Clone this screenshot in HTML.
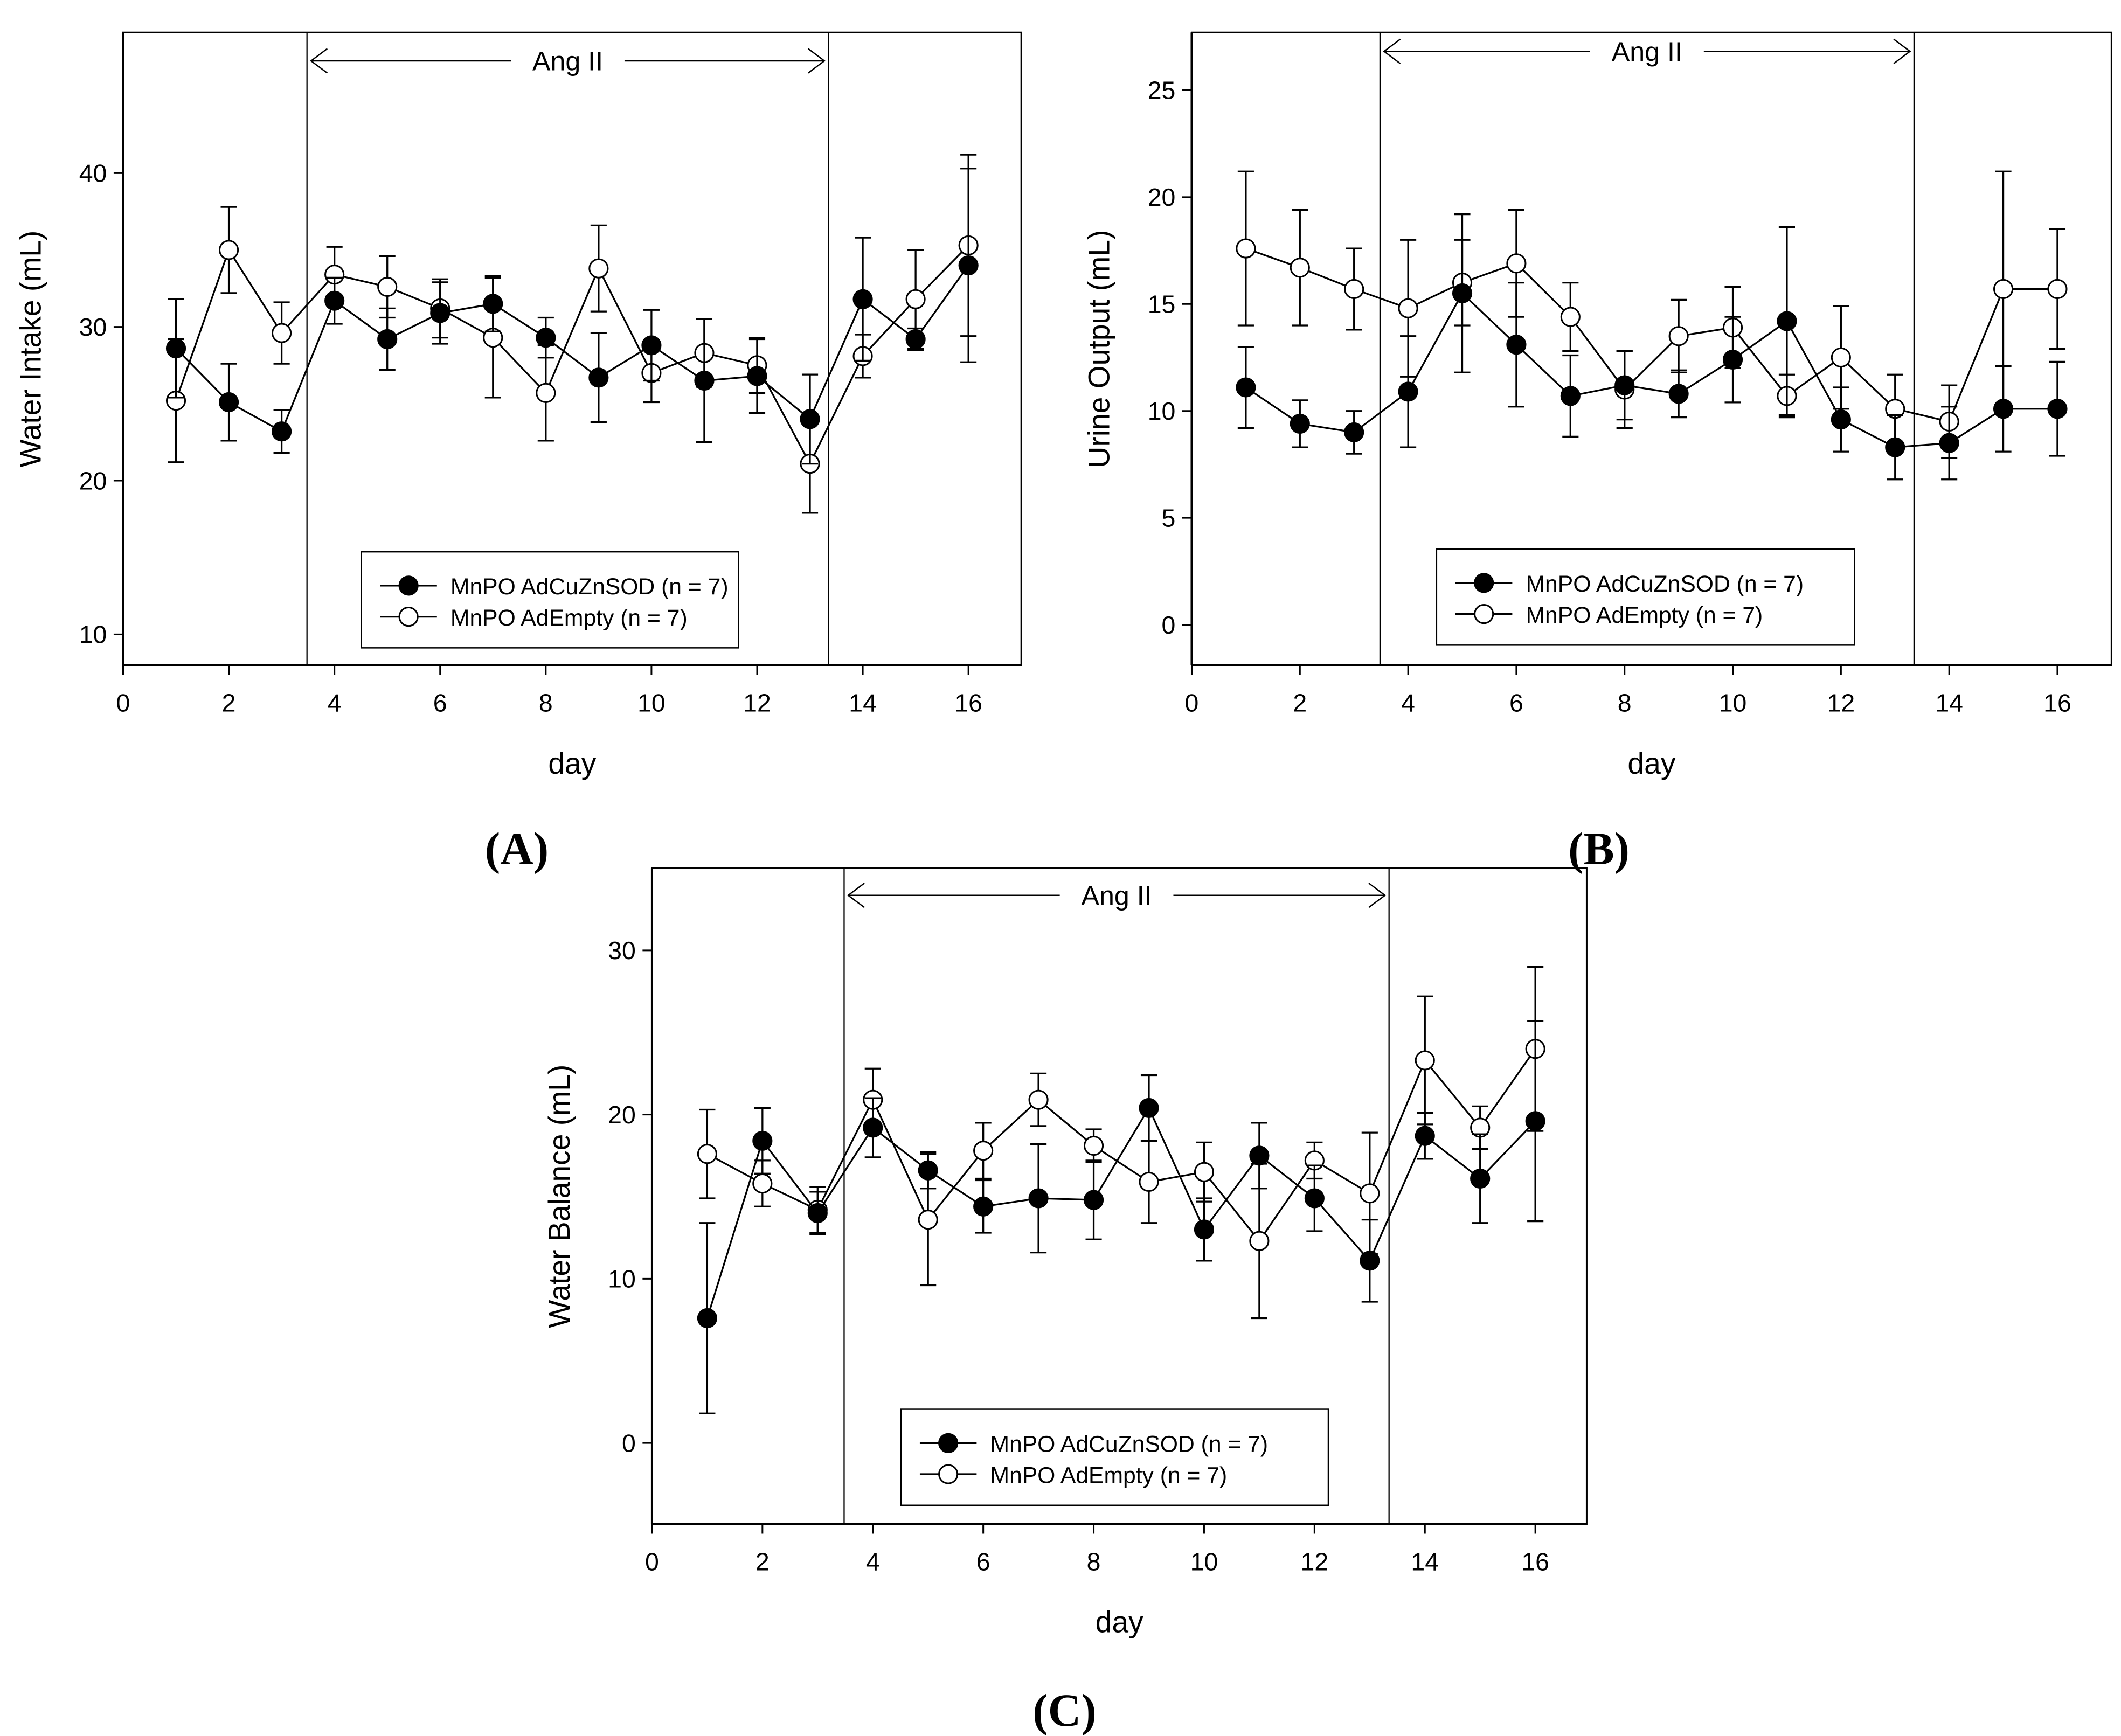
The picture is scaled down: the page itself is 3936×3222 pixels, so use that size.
<!DOCTYPE html>
<html><head><meta charset="utf-8"><style>html,body{margin:0;padding:0;background:#fff}svg{display:block}text{font-family:"Liberation Sans",Arial,sans-serif;fill:#000}</style></head>
<body>
<svg id="fig" xmlns="http://www.w3.org/2000/svg" width="3936" height="3222" viewBox="0 0 1568 1283.6">
<rect width="1568" height="1283.6" fill="#fff"/>
</svg>
<script>
const days = [1,2,3,4,5,6,7,8,9,10,11,12,13,14,15,16];
const xTicks = [0,2,4,6,8,10,12,14,16];
const aTicks = [10,20,30,40];
const bTicks = [0,5,10,15,20,25];
const cTicks = [0,10,20,30];
const aBlack = [28.6,25.1,23.2,31.7,29.2,30.9,31.5,29.3,26.7,28.8,26.5,26.8,24.0,31.8,29.2,34.0];
const aBlackErr = [3.2,2.5,1.4,1.5,2.0,2.0,1.8,1.3,2.9,2.3,4.0,2.4,2.9,4.0,0.7,6.3];
const aWhite = [25.2,35.0,29.6,33.4,32.6,31.2,29.3,25.7,33.8,27.0,28.3,27.5,21.1,28.1,31.8,35.3];
const aWhiteErr = [4.0,2.8,2.0,1.8,2.0,1.9,3.9,3.1,2.8,1.9,2.2,1.8,3.2,1.4,3.2,5.9];
const bBlack = [11.1,9.4,9.0,10.9,15.5,13.1,10.7,11.2,10.8,12.4,14.2,9.6,8.3,8.5,10.1,10.1];
const bBlackErr = [1.9,1.1,1.0,2.6,3.7,2.9,1.9,1.6,1.1,2.0,4.4,1.5,1.5,1.7,2.0,2.2];
const bWhite = [17.6,16.7,15.7,14.8,16.0,16.9,14.4,11.0,13.5,13.9,10.7,12.5,10.1,9.5,15.7,15.7];
const bWhiteErr = [3.6,2.7,1.9,3.2,2.0,2.5,1.6,1.8,1.7,1.9,1.0,2.4,1.6,1.7,5.5,2.8];
const cBlack = [7.6,18.4,14.0,19.2,16.6,14.4,14.9,14.8,20.4,13.0,17.5,14.9,11.1,18.7,16.1,19.6];
const cBlackErr = [5.8,2.0,1.3,1.8,1.1,1.6,3.3,2.4,2.0,1.9,2.0,2.0,2.5,1.4,2.7,6.1];
const cWhite = [17.6,15.8,14.2,20.9,13.6,17.8,20.9,18.1,15.9,16.5,12.3,17.2,15.2,23.3,19.2,24.0];
const cWhiteErr = [2.7,1.4,1.4,1.9,4.0,1.7,1.6,1.0,2.5,1.8,4.7,1.1,3.7,3.9,1.3,5.0];
const angStart = 3.48, angEnd = 13.35;

const NS='http://www.w3.org/2000/svg';
const svg=document.getElementById('fig');
function mk(tag,attrs,parent,txt){const e=document.createElementNS(NS,tag);for(const k in attrs)e.setAttribute(k,attrs[k]);if(txt!==undefined)e.textContent=txt;(parent||svg).appendChild(e);return e;}

function panel(p){
  const g=mk('g',{});
  
  
  const sx=v=>p.x0+(v-p.xmin)/(p.xmax-p.xmin)*(p.x1-p.x0);
  const sy=v=>p.y1-(v-p.ymin)/(p.ymax-p.ymin)*(p.y1-p.y0);
  const frame=mk('rect',{x:p.x0,y:p.y0,width:p.x1-p.x0,height:p.y1-p.y0,fill:'none',stroke:'#000','stroke-width':1.2},g);
  
  
  const ax=mk('line',{x1:p.x0,y1:p.y1,x2:p.x1,y2:p.y1,stroke:'#000','stroke-width':1.6},g);
  
  
  const ay=mk('line',{x1:p.x0,y1:p.y0,x2:p.x0,y2:p.y1,stroke:'#000','stroke-width':1.6},g);
  
  
  xTicks.forEach(t=>{
    mk('line',{x1:sx(t),y1:p.y1,x2:sx(t),y2:p.y1+7,stroke:'#000','stroke-width':1.2},g);
    const tl=mk('text',{x:sx(t),y:p.y1+34,'text-anchor':'middle','font-size':18.5},g,String(t));
    
    
  });
  p.yt.forEach(t=>{
    mk('line',{x1:p.x0-7,y1:sy(t),x2:p.x0,y2:sy(t),stroke:'#000','stroke-width':1.2},g);
    const tl=mk('text',{x:p.x0-12,y:sy(t)+6.5,'text-anchor':'end','font-size':18.5},g,String(t));
    
    
  });
  const xt=mk('text',{x:(p.x0+p.x1)/2,y:p.y1+80,'text-anchor':'middle','font-size':22},g,'day');
  
  
  const ytx=p.x0-61, ytyy=(p.y0+p.y1)/2;
  const yt=mk('text',{x:ytx,y:ytyy,'text-anchor':'middle','font-size':22,transform:'rotate(-90 '+ytx+' '+ytyy+')'},g,p.ytitle);
  
  
  [angStart,angEnd].forEach(v=>{
    const l=mk('line',{x1:sx(v),y1:p.y0,x2:sx(v),y2:p.y1,stroke:'#000','stroke-width':0.9},g);
    
    
  });
  const ay2=p.y0+p.arrowDy, axa=sx(angStart)+3, axb=sx(angEnd)-3, mid=(axa+axb)/2;
  const arr=mk('g',{stroke:'#000','stroke-width':1,fill:'none'},g);
  
  
  mk('path',{d:`M${axa} ${ay2}H${mid-42}M${mid+42} ${ay2}H${axb}M${axa+12} ${ay2-9}L${axa} ${ay2}L${axa+12} ${ay2+9}M${axb-12} ${ay2-9}L${axb} ${ay2}L${axb-12} ${ay2+9}`},arr);
  const at=mk('text',{x:mid,y:ay2+7,'text-anchor':'middle','font-size':20},g,'Ang II');
  
  
  function series(vals,errs,fill,name){
    const sg=mk('g',{},g);
    
    
    vals.forEach((v,i)=>{const x=sx(days[i]);
      mk('path',{d:`M${x} ${sy(v+errs[i])}V${sy(v-errs[i])}M${x-6} ${sy(v+errs[i])}h12M${x-6} ${sy(v-errs[i])}h12`,stroke:'#000','stroke-width':1.3,fill:'none'},sg);});
    mk('polyline',{points:vals.map((v,i)=>sx(days[i])+','+sy(v)).join(' '),fill:'none',stroke:'#000','stroke-width':1.3},sg);
    vals.forEach((v,i)=>{const c=mk('circle',{cx:sx(days[i]),cy:sy(v),r:6.8,fill:fill,stroke:'#000','stroke-width':1.2},sg);
      
      });
  }
  series(p.w,p.we,'#fff','series-adempty');
  series(p.b,p.be,'#000','series-adcuznsod');
  const lg=mk('g',{},g);
  
  
  mk('rect',{x:p.lx,y:p.ly,width:p.lw,height:71,fill:'#fff',stroke:'#000','stroke-width':1},lg);
  [['#000','MnPO AdCuZnSOD (n = 7)'],['#fff','MnPO AdEmpty (n = 7)']].forEach((e,k)=>{
    const yy=p.ly+25+k*23;
    const le=mk('g',{},lg);
    
    
    mk('line',{x1:p.lx+14,y1:yy,x2:p.lx+56,y2:yy,stroke:'#000','stroke-width':1.3},le);
    mk('circle',{cx:p.lx+35,cy:yy,r:6.8,fill:e[0],stroke:'#000','stroke-width':1.2},le);
    mk('text',{x:p.lx+66,y:yy+6.5,'font-size':17},le,e[1]);
  });
  const pl=mk('text',{x:p.labX,y:p.labY,'text-anchor':'middle','font-size':34,'font-weight':'bold',style:'font-family:"Liberation Serif",serif'},g,p.lab);
  
  
}
panel({id:'a',x0:91,x1:755,y0:24,y1:492,xmin:0,xmax:17,ymin:7.98,ymax:49.15,yt:aTicks,ytitle:'Water Intake (mL)',b:aBlack,be:aBlackErr,w:aWhite,we:aWhiteErr,arrowDy:21,lx:267,ly:408,lw:279,lab:'(A)',labX:382,labY:639});
panel({id:'b',x0:881,x1:1561,y0:24,y1:492,xmin:0,xmax:17,ymin:-1.9,ymax:27.7,yt:bTicks,ytitle:'Urine Output (mL)',b:bBlack,be:bBlackErr,w:bWhite,we:bWhiteErr,arrowDy:14,lx:1062,ly:406,lw:309,lab:'(B)',labX:1182,labY:639});
panel({id:'c',x0:482,x1:1173,y0:642,y1:1127,xmin:0,xmax:16.93,ymin:-4.95,ymax:35.0,yt:cTicks,ytitle:'Water Balance (mL)',b:cBlack,be:cBlackErr,w:cWhite,we:cWhiteErr,arrowDy:20,lx:666,ly:1042,lw:316,lab:'(C)',labX:787,labY:1276});
</script>
</body></html>
